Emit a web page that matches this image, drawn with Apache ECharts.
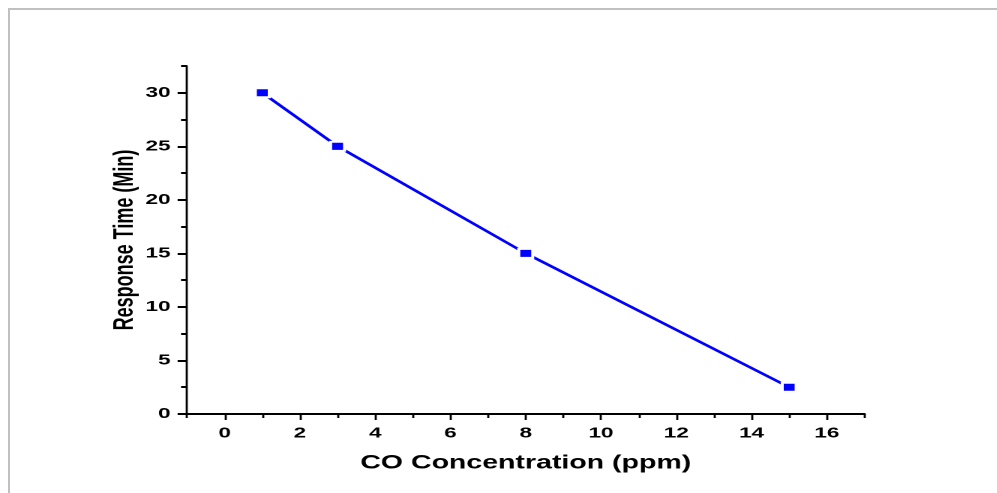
<!DOCTYPE html>
<html>
<head>
<meta charset="utf-8">
<script src="https://cdn.jsdelivr.net/npm/echarts@6/dist/echarts.min.js"></script>
<style>
  html, body { margin: 0; padding: 0; background: #fff; overflow: hidden; }
  body { width: 997px; height: 493px; position: relative; }
  /* light grey page frame */
  #frame { position: absolute; left: 8px; top: 8px; width: 1200px; height: 800px;
           border-top: 2px solid #c0c0c0; border-left: 2px solid #c0c0c0; }
  /* the figure is drawn narrow and widened horizontally, like the original export */
  #chart { position: absolute; left: 0; top: 0; width: 664.7px; height: 493px;
           transform: scaleX(1.5); transform-origin: 0 0; }
</style>
</head>
<body>
<div id="frame"></div>
<div id="chart"></div>
<script>
// CO concentration (ppm) vs. response time (min)
const concentration = [1, 3, 8, 15];
const responseTime = [30, 25, 15, 2.5];

// axis ticks
const xMajorTicks = [0, 2, 4, 6, 8, 10, 12, 14, 16];
const xMinorTicks = [-1, 1, 3, 5, 7, 9, 11, 13, 15, 17];
const yMajorTicks = [0, 5, 10, 15, 20, 25, 30];
const yMinorTicks = [2.5, 7.5, 12.5, 17.5, 22.5, 27.5, 32.5];

const chart = echarts.init(document.getElementById('chart'), null, { devicePixelRatio: 2 });

const font = 'Liberation Sans, Arial, sans-serif';
const labelStyle = { color: '#000', fontWeight: 'bold', fontSize: 15, fontFamily: font };

chart.setOption({
  animation: false,
  backgroundColor: 'transparent',
  grid: { left: 124.7, right: 88.7, top: 66, bottom: 79, containLabel: false },
  xAxis: [
    {
      type: 'value', min: -1, max: 17, position: 'bottom',
      name: 'CO Concentration (ppm)', nameLocation: 'middle', nameGap: 40,
      nameTextStyle: { color: '#000', fontWeight: 'bold', fontSize: 19, fontFamily: font },
      axisLine: { show: true, onZero: false, lineStyle: { color: '#000', width: 2 } },
      axisTick: { show: true, customValues: xMajorTicks, length: 6, lineStyle: { color: '#000', width: 1.4 } },
      axisLabel: Object.assign({ customValues: xMajorTicks, margin: 12 }, labelStyle),
      splitLine: { show: false }
    },
    {
      type: 'value', min: -1, max: 17, position: 'bottom',
      axisLine: { show: false, onZero: false },
      axisTick: { show: true, customValues: xMinorTicks, length: 4, lineStyle: { color: '#000', width: 1.4 } },
      axisLabel: { show: false },
      splitLine: { show: false }
    }
  ],
  yAxis: [
    {
      type: 'value', min: 0, max: 32.5, position: 'left',
      name: 'Response Time (Min)', nameLocation: 'middle', nameGap: 32, nameMoveOverlap: false,
      nameTextStyle: { color: '#000', fontWeight: 'bold', fontSize: 18, fontFamily: font },
      axisLine: { show: true, onZero: false, lineStyle: { color: '#000', width: 1.4 } },
      axisTick: { show: true, customValues: yMajorTicks, length: 6.3, lineStyle: { color: '#000', width: 2 } },
      axisLabel: Object.assign({ customValues: yMajorTicks, margin: 11 }, labelStyle),
      splitLine: { show: false }
    },
    {
      type: 'value', min: 0, max: 32.5, position: 'left',
      axisLine: { show: false, onZero: false },
      axisTick: { show: true, customValues: yMinorTicks, length: 4, lineStyle: { color: '#000', width: 2 } },
      axisLabel: { show: false },
      splitLine: { show: false }
    }
  ],
  series: [
    {
      type: 'line',
      xAxisIndex: 0, yAxisIndex: 0,
      data: concentration.map((c, i) => [c, responseTime[i]]),
      lineStyle: { color: '#0000ff', width: 2.4 },
      symbol: 'rect',
      symbolSize: [9.3, 9],
      itemStyle: { color: '#0000ff', borderColor: '#ffffff', borderWidth: 2 },
      z: 3
    }
  ]
});
</script>
</body>
</html>
